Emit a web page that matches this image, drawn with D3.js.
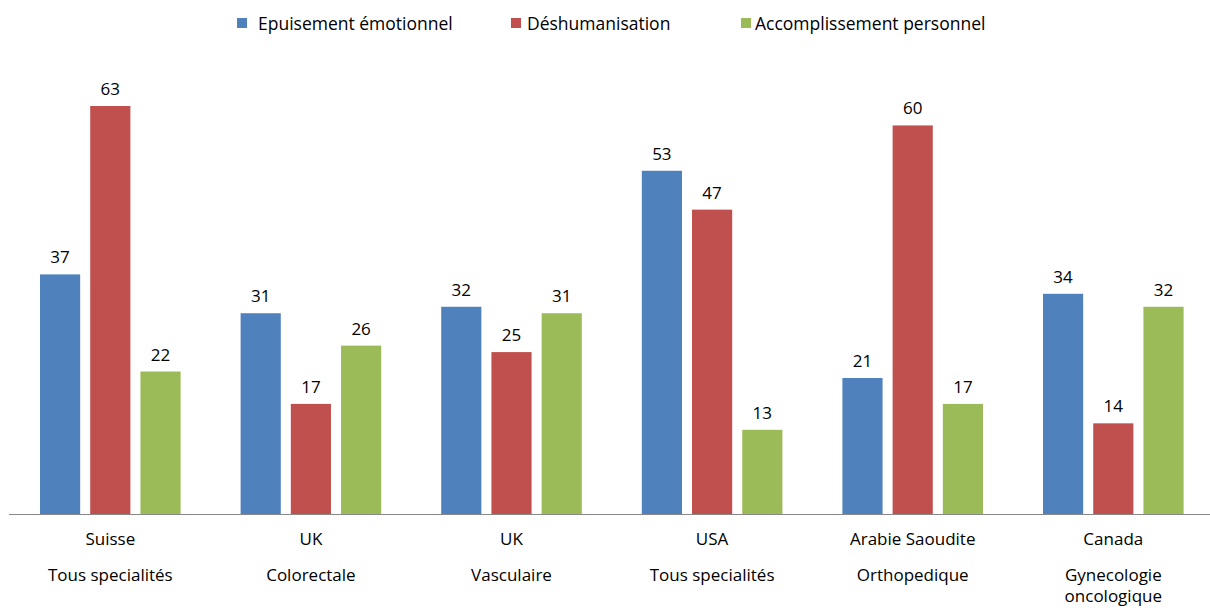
<!DOCTYPE html>
<html lang="fr">
  <head>
    <meta charset="UTF-8" />
    <title>Burnout par pays</title>
    <script src="https://d3js.org/d3.v7.min.js"></script>
    <style>
      body {
        margin: 0;
        background: #fff;
        font-family: "Open Sans", sans-serif;
      }
      text {
        fill: #000;
      }
    </style>
  </head>
  <body>
    <svg width="1210" height="608"></svg>

    <script>
      // Data
      const countries = ["Suisse", "UK", "UK", "USA", "Arabie Saoudite", "Canada"];
      const specialties = [
        ["Tous specialités"],
        ["Colorectale"],
        ["Vasculaire"],
        ["Tous specialités"],
        ["Orthopedique"],
        ["Gynecologie", "oncologique"]
      ];
      const seriesNames = ["Epuisement émotionnel", "Déshumanisation", "Accomplissement personnel"];
      const epuisement = [37, 31, 32, 53, 21, 34];
      const deshumanisation = [63, 17, 25, 47, 60, 14];
      const accomplissement = [22, 26, 31, 13, 17, 32];
      const colors = ["#4F81BD", "#C0504D", "#9BBB59"];

      const svg = d3.select("svg");
      const baseY = 514;
      const left = 10, right = 1213.6;

      const x0 = d3.scaleBand()
        .domain(d3.range(countries.length))
        .range([left, right])
        .paddingInner(0)
        .paddingOuter(0);

      // inner band: ~40px bars with ~10px gaps, 30px margin each side
      const x1 = d3.scaleBand()
        .domain(d3.range(3))
        .range([30, x0.bandwidth() - 30])
        .paddingInner(0.2)
        .paddingOuter(0);

      const y = d3.scaleLinear()
        .domain([0, 63])
        .range([baseY, 106]);

      const values = [epuisement, deshumanisation, accomplissement];
      const rows = countries.map((c, i) => ({
        i,
        vals: values.map(v => v[i])
      }));

      const groups = svg.append("g")
        .selectAll("g")
        .data(rows)
        .join("g")
        .attr("transform", d => `translate(${x0(d.i)},0)`);

      groups.selectAll("rect")
        .data(d => d.vals.map((v, s) => ({ v, s })))
        .join("rect")
        .attr("x", d => x1(d.s))
        .attr("width", x1.bandwidth())
        .attr("y", d => y(d.v))
        .attr("height", d => baseY - y(d.v))
        .attr("fill", d => colors[d.s]);

      groups.selectAll("text.val")
        .data(d => d.vals.map((v, s) => ({ v, s })))
        .join("text")
        .attr("class", "val")
        .attr("x", d => x1(d.s) + x1.bandwidth() / 2)
        .attr("y", d => y(d.v) - 11)
        .attr("text-anchor", "middle")
        .attr("font-size", 17)
        .text(d => d.v);

      // axis line
      svg.append("line")
        .attr("x1", left - 1)
        .attr("x2", 1210)
        .attr("y1", baseY + 0.5)
        .attr("y2", baseY + 0.5)
        .attr("stroke", "#888")
        .attr("stroke-width", 1);

      // category labels
      const labels = svg.append("g")
        .selectAll("g")
        .data(rows)
        .join("g")
        .attr("transform", d => `translate(${x0(d.i) + x0.bandwidth() / 2},0)`)
        .attr("text-anchor", "middle")
        .attr("font-size", 17);

      labels.append("text")
        .attr("y", 545)
        .text(d => countries[d.i]);

      labels.each(function (d) {
        d3.select(this).selectAll("text.spec")
          .data(specialties[d.i])
          .join("text")
          .attr("class", "spec")
          .attr("y", (t, k) => 581 + k * 21)
          .text(t => t);
      });

      // legend
      const legendX = [237, 511, 741];
      const legend = svg.append("g")
        .selectAll("g")
        .data(seriesNames)
        .join("g")
        .attr("transform", (d, i) => `translate(${legendX[i]},18)`);

      legend.append("rect")
        .attr("width", 10)
        .attr("height", 10)
        .attr("fill", (d, i) => colors[i]);

      legend.append("text")
        .attr("x", (d, i) => (i === 1 ? 16 : i === 0 ? 21 : 14))
        .attr("y", 12)
        .attr("font-size", 17.5)
        .text(d => d);
    </script>
  </body>
</html>
